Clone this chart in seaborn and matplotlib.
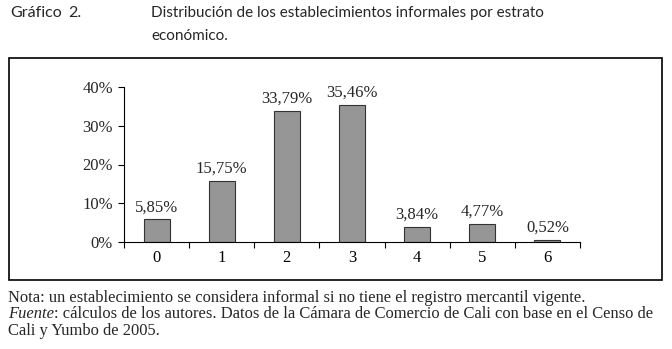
import matplotlib
matplotlib.use("Agg")
import matplotlib.pyplot as plt
import seaborn as sns
import pandas as pd
import numpy as np
from matplotlib.patches import Rectangle
from matplotlib.ticker import FixedLocator

categories = ["0", "1", "2", "3", "4", "5", "6"]
values = [5.85, 15.75, 33.79, 35.46, 3.84, 4.77, 0.52]
value_labels = ["5,85%", "15,75%", "33,79%", "35,46%", "3,84%", "4,77%", "0,52%"]
y_ticks = [0, 10, 20, 30, 40]
y_tick_labels = ["0%", "10%", "20%", "30%", "40%"]

sns.set_theme(style="white")
plt.rcParams['font.family'] = ['Liberation Serif', 'DejaVu Serif']

df = pd.DataFrame({"estrato": categories, "pct": values})

fig = plt.figure(figsize=(6.72, 3.49), dpi=100)
ax = fig.add_axes([124/672, 1-242/349, (580-124)/672, (242-87)/349])

sns.barplot(data=df, x="estrato", y="pct", ax=ax, color="#969696",
            saturation=1, width=0.4, edgecolor="#333333", linewidth=0.8)

ax.set_xlim(-0.5, len(categories) - 0.5)
ax.set_ylim(0, 40)
ax.set_yticks(y_ticks)
ax.set_yticklabels(y_tick_labels, fontsize=12)
ax.set_xlabel("")
ax.set_ylabel("")
for s in ["top", "right"]:
    ax.spines[s].set_visible(False)
for s in ["left", "bottom"]:
    ax.spines[s].set_color("black")
    ax.spines[s].set_linewidth(0.8)

ax.tick_params(axis="x", which="major", length=0, labelsize=12, pad=6, colors="black")
ax.xaxis.set_minor_locator(FixedLocator(np.arange(-0.5, len(categories), 1.0)))
ax.tick_params(axis="x", which="minor", length=4, width=0.8, direction="out", color="black", bottom=True)
ax.tick_params(axis="y", length=4.5, width=0.8, direction="out", color="black", left=True, labelsize=12, pad=3.5)

for i, (v, lab) in enumerate(zip(values, value_labels)):
    ax.annotate(lab, (i, v), xytext=(0, 3), textcoords="offset points",
                ha="center", va="bottom", fontsize=12)

# frame box
fig.patches.append(Rectangle((9/672, 1-280/349), 653/672, 222/349,
                             transform=fig.transFigure, fill=False,
                             edgecolor="black", linewidth=1.2))

title_font = ["Lato", "DejaVu Sans"]
fig.text(10/672, 1-17/349, "Gráfico", family=title_font, fontsize=11.5, va="baseline", ha="left")
fig.text(68/672, 1-17/349, "2.", family=title_font, fontsize=11.5, va="baseline", ha="left")
fig.text(151/672, 1-17/349, "Distribución de los establecimientos informales por estrato",
         family=title_font, fontsize=11, va="baseline", ha="left")
fig.text(151/672, 1-39.5/349, "económico.", family=title_font, fontsize=11, va="baseline", ha="left")

fs = 11.9
fig.text(8/672, 1-302/349, "Nota: un establecimiento se considera informal si no tiene el registro mercantil vigente.",
         fontsize=fs, va="baseline", ha="left")
t = fig.text(8/672, 1-318/349, "Fuente", fontsize=fs, va="baseline", ha="left", style="italic")
fig.canvas.draw()
bb = t.get_window_extent()
fig.text(bb.x1/672, 1-318/349, ": cálculos de los autores. Datos de la Cámara de Comercio de Cali con base en el Censo de",
         fontsize=fs, va="baseline", ha="left")
fig.text(8/672, 1-335/349, "Cali y Yumbo de 2005.", fontsize=fs, va="baseline", ha="left")

fig.savefig("out.png", dpi=100, facecolor="white")
